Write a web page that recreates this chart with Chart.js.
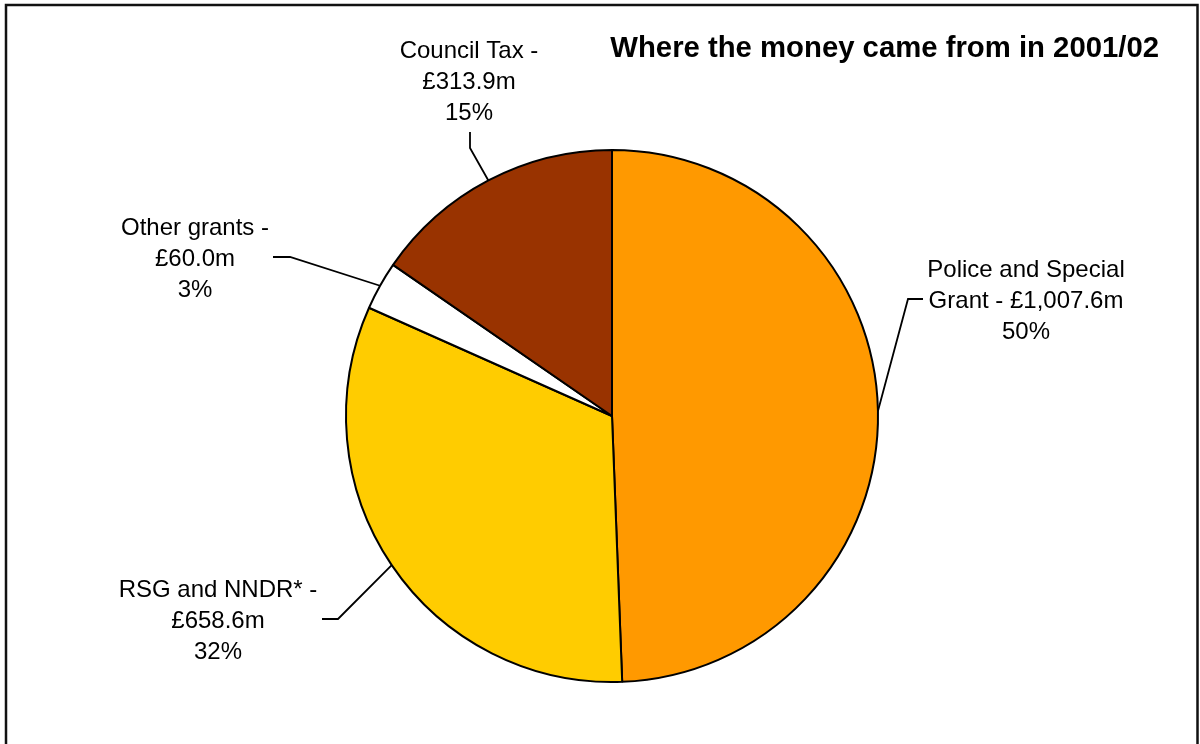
<!DOCTYPE html>
<html>
<head>
<meta charset="utf-8">
<script src="https://cdn.jsdelivr.net/npm/chart.js@4/dist/chart.umd.min.js"></script>
<style>
  html, body { margin: 0; padding: 0; background: #fff; }
  canvas { display: block; }
</style>
</head>
<body>
<canvas id="income" width="1200" height="744"></canvas>
<script>
// sources of income, in £m
const sources = ["Police and Special Grant", "RSG and NNDR*", "Other grants", "Council Tax"];
const amounts = [1007.6, 658.6, 60.0, 313.9];
const amountLabels = ["£1,007.6m", "£658.6m", "£60.0m", "£313.9m"];
const percentLabels = ["50%", "32%", "3%", "15%"];
const sliceColours = ["#FF9900", "#FFCC00", "#FFFFFF", "#993300"];

const FONT = '"Liberation Sans", Arial, sans-serif';

// where each label block sits and how its leader line bends
const labelLayout = [
  { lines: ["Police and Special", "Grant - " + amountLabels[0], percentLabels[0]], x: 1026, y: 277, elbow: [908, 299], end: [923, 299] },
  { lines: ["RSG and NNDR* -", amountLabels[1], percentLabels[1]], x: 218, y: 597, elbow: [338, 619], end: [322, 619] },
  { lines: ["Other grants -", amountLabels[2], percentLabels[2]], x: 195, y: 235, elbow: [290, 257], end: [273, 257] },
  { lines: ["Council Tax -", amountLabels[3], percentLabels[3]], x: 469, y: 58, elbow: [470, 148], end: [470, 132] },
];

const labelsPlugin = {
  id: "pieLabels",
  beforeDraw(chart) {
    const ctx = chart.ctx;
    ctx.save();
    ctx.fillStyle = "#fff";
    ctx.fillRect(0, 0, chart.width, chart.height);
    ctx.restore();
  },
  afterDatasetsDraw(chart) {
    const ctx = chart.ctx;
    const arcs = chart.getDatasetMeta(0).data;
    ctx.save();
    ctx.strokeStyle = "#000";
    ctx.lineWidth = 1.8;
    arcs.forEach((arc, i) => {
      const { x, y, startAngle, endAngle, outerRadius } = arc.getProps(["x", "y", "startAngle", "endAngle", "outerRadius"], true);
      const mid = (startAngle + endAngle) / 2;
      const ax = x + Math.cos(mid) * outerRadius;
      const ay = y + Math.sin(mid) * outerRadius;
      const lay = labelLayout[i];
      ctx.beginPath();
      ctx.moveTo(ax, ay);
      ctx.lineTo(lay.elbow[0], lay.elbow[1]);
      ctx.lineTo(lay.end[0], lay.end[1]);
      ctx.stroke();

      ctx.fillStyle = "#000";
      ctx.font = "24px " + FONT;
      ctx.textAlign = "center";
      ctx.textBaseline = "alphabetic";
      lay.lines.forEach((line, j) => {
        ctx.fillText(line, lay.x, lay.y + j * 31);
      });
    });
    ctx.restore();
  },
  afterDraw(chart) {
    const ctx = chart.ctx;
    ctx.save();
    // title
    ctx.fillStyle = "#000";
    ctx.font = "bold 29.3px " + FONT;
    ctx.textAlign = "right";
    ctx.textBaseline = "alphabetic";
    ctx.fillText("Where the money came from in 2001/02", 1159, 57);
    // outer frame
    ctx.strokeStyle = "#111";
    ctx.lineWidth = 2.5;
    ctx.strokeRect(6, 5, 1191.5, 760);
    ctx.restore();
  },
};

new Chart(document.getElementById("income"), {
  type: "pie",
  data: {
    labels: sources,
    datasets: [{
      data: amounts,
      backgroundColor: sliceColours,
      borderColor: "#000",
      borderWidth: 2,
      radius: 266,
    }],
  },
  options: {
    responsive: false,
    animation: false,
    layout: { padding: { left: 24, right: 0, top: 88, bottom: 0 } },
    plugins: {
      legend: { display: false },
      tooltip: { enabled: false },
    },
  },
  plugins: [labelsPlugin],
});
</script>
</body>
</html>
